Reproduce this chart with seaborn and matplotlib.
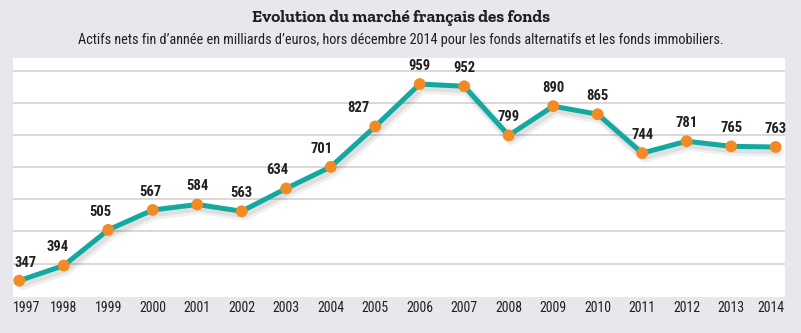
import matplotlib
matplotlib.use("Agg")
import matplotlib.pyplot as plt
import matplotlib.patheffects as pe
import matplotlib.transforms as mtransforms
import seaborn as sns
import pandas as pd

years = [1997, 1998, 1999, 2000, 2001, 2002, 2003, 2004, 2005,
         2006, 2007, 2008, 2009, 2010, 2011, 2012, 2013, 2014]
values = [347, 394, 505, 567, 584, 563, 634, 701, 827,
          959, 952, 799, 890, 865, 744, 781, 765, 763]
grid_values = [400, 500, 600, 700, 800, 900, 1000]

title = "Evolution du marché français des fonds"
subtitle = ("Actifs nets fin d\u2019année en milliards d\u2019euros, hors décembre 2014 "
            "pour les fonds alternatifs et les fonds immobiliers.")

BG = "#e6e8ec"
TEAL = "#12a9a1"
ORANGE = "#f28b25"
TEXT = "#231f20"
NARROW = ["Roboto Condensed", "DejaVu Sans"]
SLAB = ["Zilla Slab", "DejaVu Serif"]

sns.set_theme(style="white")
plt.rcParams["font.family"] = NARROW

df = pd.DataFrame({"year": years, "value": values})

fig = plt.figure(figsize=(8.01, 3.33), dpi=100, facecolor=BG)
ax = fig.add_axes([13 / 801, 1 - 296.7 / 333, (785 - 13) / 801, (296.7 - 58) / 333])
ax.set_facecolor("white")

for g in grid_values:
    ax.axhline(g, color="#d2d2d2", lw=1.2, zorder=0)

sns.lineplot(data=df, x="year", y="value", ax=ax, color=TEAL, lw=3.6,
             zorder=2, path_effects=[pe.SimpleLineShadow(offset=(2, -3), shadow_color="#000000",
                                                         alpha=0.06, linewidth=8),
                                     pe.SimpleLineShadow(offset=(1.5, -2.5), shadow_color="#000000",
                                                         alpha=0.07, linewidth=5),
                                     pe.Normal()])
sns.scatterplot(data=df, x="year", y="value", ax=ax, color=ORANGE, s=72,
                edgecolor="none", zorder=3)

ax.set_xlim(1996.86, 2014.21)
ax.set_ylim(297, 1040)

# value labels
n = len(values)
for i, (yr, v) in enumerate(zip(years, values)):
    prev_d = v - values[i - 1] if i > 0 else 0
    next_d = values[i + 1] - v if i < n - 1 else 0
    dx = 0.0
    if prev_d > 0 and next_d > 0:
        dx = -0.13 * min(prev_d, next_d)
    ha = "center"
    if i == 0:
        ha = "left"
        dx = -5
    ax.annotate(str(v), (yr, v), xytext=(dx * 0.72, 8), textcoords="offset points",
                ha=ha, va="bottom", fontsize=10.5, fontweight="bold", color=TEXT,
                family=NARROW, zorder=4)

ax.set_xticks(years)
ax.set_xticklabels([str(y) for y in years], fontsize=10, color=TEXT, family=NARROW)
ax.tick_params(axis="x", length=0, pad=3)
ax.set_yticks([])
ax.set_xlabel("")
ax.set_ylabel("")
for s in ax.spines.values():
    s.set_visible(False)

tl = ax.get_xticklabels()
for lab, ha, off in ((tl[0], "left", -6.3), (tl[-1], "right", 9.3)):
    lab.set_ha(ha)
    lab.set_transform(lab.get_transform() + mtransforms.ScaledTranslation(off / 100, 0, fig.dpi_scale_trans))

fig.text(0.5, 1 - 18 / 333, title, ha="center", va="center", fontsize=12.3,
         fontweight="bold", color=TEXT, family=SLAB)
fig.text(0.5, 1 - 40 / 333, subtitle, ha="center", va="center", fontsize=10.3,
         color=TEXT, family=NARROW)

fig.savefig("out.png", dpi=100, facecolor=BG)
